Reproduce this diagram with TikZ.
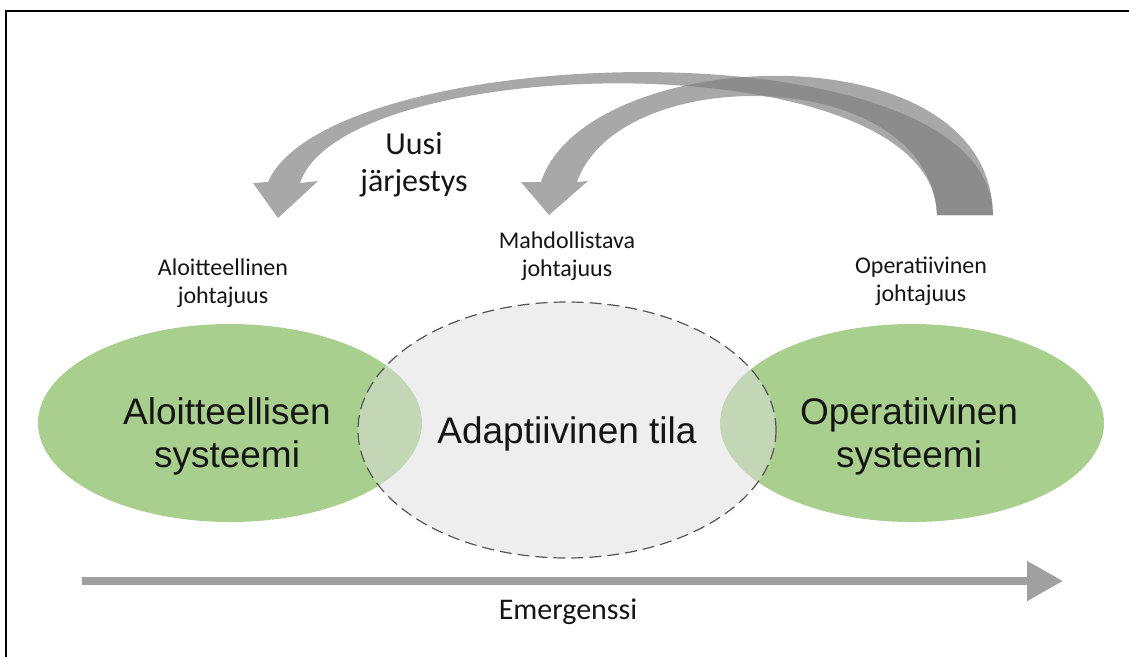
\documentclass[tikz,border=0pt]{standalone}
\usepackage{fontspec}
\setmainfont{Carlito}
\newfontfamily\arialfont{Liberation Sans}
\usetikzlibrary{shapes.geometric,arrows.meta}
\definecolor{leafgreen}{HTML}{A9CF8F}
\definecolor{fogfill}{HTML}{DEDEDE}
\definecolor{dashgray}{HTML}{555555}
\definecolor{flowgray}{HTML}{A0A0A0}
\definecolor{arcgray}{HTML}{A8A8A8}
\definecolor{tailgray}{HTML}{8C8C8C}
\definecolor{inkblack}{HTML}{151515}
\tikzset{
  system/.style={ellipse, fill=leafgreen, minimum width=384pt, minimum height=198pt, inner sep=0pt},
  space/.style={ellipse, fill=fogfill, fill opacity=0.5, draw=dashgray, draw opacity=1,
    line width=1.2pt, dash pattern=on 12pt off 6pt, minimum width=418pt, minimum height=256pt,
    inner sep=0pt},
  bigtext/.style={align=center, text=inkblack, inner sep=0pt,
    font=\arialfont\fontsize{37}{43}\selectfont},
  caption/.style={align=center, text=inkblack, inner sep=0pt, font=\fontsize{24}{28}\selectfont},
  bigcaption/.style={align=center, text=inkblack, inner sep=0pt, font=\fontsize{32}{37}\selectfont},
  frameline/.style={line width=2pt, black}
}
% outlines of the two feedback arcs (shaft plus head)
\def\arcApath{(278,218) -- (253,183) -- (268,182)
    .. controls (330,40) and (990,20) .. (993,215) -- (937,215)
    .. controls (935,40) and (345,50) .. (300,183) -- (318,181) -- cycle}
\def\arcBpath{(549,215) -- (521,182) -- (541,182)
    .. controls (585,45) and (990,25) .. (993,215) -- (937,215)
    .. controls (930,65) and (620,60) .. (577,182) -- (588,181) -- cycle}
\begin{document}
\begin{tikzpicture}[x=1pt, y=-1pt]
  \useasboundingbox (0,0) rectangle (1129,657);
  % frame edges
  \draw[frameline] (6,657) -- (6,11) -- (1129,11);

  % the three regions
  \node[system] (init) at (230,423) {};
  \node[system] (oper) at (912,423) {};
  \node[space] (adapt) at (567,430) {};
  \node[bigtext] (inittext) at (227,436) {Aloitteellisen\\systeemi};
  \node[bigtext] (opertext) at (909,436) {Operatiivinen\\systeemi};
  \node[bigtext] (adapttext) at (567,434) {Adaptiivinen tila};

  % leadership captions
  \node[caption] (initlead) at (223,283) {Aloitteellinen\\johtajuus};
  \node[caption] (adaptlead) at (567,256) {Mahdollistava\\johtajuus};
  \node[caption] (operlead) at (921,281) {Operatiivinen\\johtajuus};
  \node[bigcaption] (order) at (414,165) {Uusi\\järjestys};

  % feedback arcs from the operative side, darker where they share the tail
  \fill[arcgray] \arcBpath;
  \fill[arcgray] \arcApath;
  \begin{scope}
    \clip \arcApath;
    \fill[tailgray] \arcBpath;
  \end{scope}

  % emergence axis
  \coordinate (axstart) at (82,581);
  \coordinate (axend) at (1063,581);
  \draw[flowgray, line width=8pt, -{Triangle[length=36pt, width=38pt]}] (axstart) -- (axend);
  \node[bigcaption, font=\fontsize{30}{36}\selectfont] (emerg) at (568,612) {Emergenssi};
\end{tikzpicture}
\end{document}
